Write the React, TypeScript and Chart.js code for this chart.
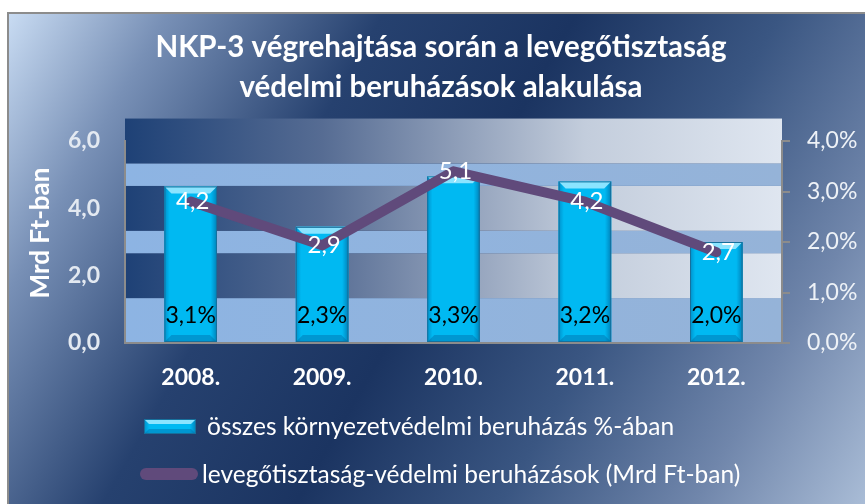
import { useEffect, useRef } from 'react';
import { Chart, registerables } from 'chart.js';

Chart.register(...registerables);

const categories = ['2008.', '2009.', '2010.', '2011.', '2012.'];
const sharePercent = [3.1, 2.3, 3.3, 3.2, 2.0];
const airInvestment = [4.2, 2.9, 5.1, 4.2, 2.7];
const leftTicks = [0, 2, 4, 6];
const rightTicks = [0, 1, 2, 3, 4];
const titleLines = ['NKP-3 végrehajtása során a levegőtisztaság', 'védelmi beruházások alakulása'];
const barSeriesName = 'összes környezetvédelmi beruházás %-ában';
const lineSeriesName = 'levegőtisztaság-védelmi beruházások (Mrd Ft-ban)';
const leftAxisTitle = 'Mrd Ft-ban';

const FONT = 'Lato, "Open Sans", sans-serif';
const fmt = (v: number) => v.toFixed(1).replace('.', ',');

const BAR_COLOR = '#00b9f2';
const LINE_COLOR = '#604a7b';

function drawBevelBar(ctx: CanvasRenderingContext2D, l: number, t: number, w: number, h: number, bevel: number) {
  const r = l + w;
  const b = t + h;
  ctx.save();
  ctx.fillStyle = BAR_COLOR;
  ctx.fillRect(l, t, w, h);
  const g = ctx.createLinearGradient(l, 0, r, 0);
  g.addColorStop(0, 'rgba(0,70,130,0.35)');
  g.addColorStop(0.1, 'rgba(0,70,130,0)');
  g.addColorStop(0.88, 'rgba(0,70,130,0)');
  g.addColorStop(1, 'rgba(0,60,110,0.45)');
  ctx.fillStyle = g;
  ctx.fillRect(l, t, w, h);
  ctx.fillStyle = '#8be4ff';
  ctx.beginPath();
  ctx.moveTo(l, t);
  ctx.lineTo(r, t);
  ctx.lineTo(r - bevel, t + bevel);
  ctx.lineTo(l + bevel, t + bevel);
  ctx.closePath();
  ctx.fill();
  ctx.fillStyle = 'rgba(0,90,150,0.35)';
  ctx.beginPath();
  ctx.moveTo(l, b);
  ctx.lineTo(r, b);
  ctx.lineTo(r - bevel, b - bevel);
  ctx.lineTo(l + bevel, b - bevel);
  ctx.closePath();
  ctx.fill();
  ctx.strokeStyle = '#17709c';
  ctx.lineWidth = 1;
  ctx.strokeRect(l + 0.5, t + 0.5, w - 1, h - 1);
  ctx.restore();
}

const backgroundPlugin = {
  id: 'backgroundPlugin',
  beforeDraw(chart: any) {
    const { ctx, width, height, chartArea, scales } = chart;
    ctx.save();
    ctx.fillStyle = '#ffffff';
    ctx.fillRect(0, 0, width, height);
    const x0 = 8;
    const y0 = 13;
    const g = ctx.createLinearGradient(x0, y0, width, height);
    g.addColorStop(0, '#c9dcf3');
    g.addColorStop(0.14, '#7890b6');
    g.addColorStop(0.33, '#26416f');
    g.addColorStop(0.5, '#1b3461');
    g.addColorStop(0.68, '#3a5682');
    g.addColorStop(0.85, '#7086ab');
    g.addColorStop(1, '#a9bcd6');
    ctx.fillStyle = g;
    ctx.fillRect(x0, y0, width - x0, height - y0);
    ctx.strokeStyle = '#8c8c8c';
    ctx.lineWidth = 2;
    ctx.beginPath();
    ctx.moveTo(x0, height);
    ctx.lineTo(x0, y0);
    ctx.lineTo(width, y0);
    ctx.stroke();

    // plot area bands (in left-axis units, steps of 2/3)
    const ys = scales.y;
    const { left, right } = chartArea;
    const dark = ctx.createLinearGradient(left, 0, right, 0);
    dark.addColorStop(0, '#1e4176');
    dark.addColorStop(0.3, '#566c93');
    dark.addColorStop(0.7, '#c3cddc');
    dark.addColorStop(1, '#dfe6f0');
    const light = ctx.createLinearGradient(left, 0, right, 0);
    light.addColorStop(0, '#8db4e3');
    light.addColorStop(1, '#95b3d8');
    const step = 2 / 3;
    const pattern = [2, 2, 1, 2, 1, 2];
    let v = 0;
    for (let i = 0; i < pattern.length; i++) {
      const v2 = v + pattern[i] * step;
      const yb = ys.getPixelForValue(v);
      const yt = ys.getPixelForValue(v2);
      ctx.fillStyle = i % 2 === 0 ? light : dark;
      ctx.fillRect(left, yt, right - left, yb - yt);
      v = v2;
    }
    ctx.restore();
  },
  afterDatasetDraw(chart: any, args: any) {
    const meta = args.meta;
    if (meta.type !== 'bar') return;
    const ctx = chart.ctx;
    meta.data.forEach((bar: any) => {
      const { x, y, base, width } = bar.getProps(['x', 'y', 'base', 'width'], true);
      drawBevelBar(ctx, x - width / 2, y, width, base - y, 7);
    });
  },
  afterDatasetsDraw(chart: any) {
    const ctx = chart.ctx;
    ctx.save();
    ctx.textAlign = 'center';
    ctx.textBaseline = 'middle';
    const barMeta = chart.getDatasetMeta(1);
    ctx.fillStyle = '#000000';
    ctx.font = `23px ${FONT}`;
    barMeta.data.forEach((bar: any, i: number) => {
      const { x, base } = bar.getProps(['x', 'base'], true);
      ctx.fillText(fmt(sharePercent[i]) + '%', x, base - 26);
    });
    const lineMeta = chart.getDatasetMeta(0);
    ctx.fillStyle = '#ffffff';
    ctx.font = `24px ${FONT}`;
    lineMeta.data.forEach((pt: any, i: number) => {
      const { x, y } = pt.getProps(['x', 'y'], true);
      ctx.fillText(fmt(airInvestment[i]), x + 2, y);
    });
    ctx.restore();
  },
  afterDraw(chart: any) {
    const ctx = chart.ctx;
    ctx.save();
    ctx.fillStyle = '#ffffff';
    ctx.textAlign = 'center';
    ctx.textBaseline = 'middle';
    // title
    ctx.font = `bold 29.5px ${FONT}`;
    ctx.fillText(titleLines[0], 441, 47);
    ctx.fillText(titleLines[1], 441, 87);
    // left axis title
    ctx.save();
    ctx.translate(41, 233);
    ctx.rotate(-Math.PI / 2);
    ctx.font = `bold 26px ${FONT}`;
    ctx.fillText(leftAxisTitle, 0, 0);
    ctx.restore();
    // legend
    ctx.textAlign = 'left';
    ctx.font = `24.5px ${FONT}`;
    drawBevelBar(ctx, 144, 419, 52, 15, 5);
    ctx.fillStyle = '#ffffff';
    ctx.fillText(barSeriesName, 207, 427);
    ctx.strokeStyle = LINE_COLOR;
    ctx.lineWidth = 12;
    ctx.lineCap = 'round';
    ctx.beginPath();
    ctx.moveTo(146, 474);
    ctx.lineTo(192, 474);
    ctx.stroke();
    ctx.fillStyle = '#ffffff';
    ctx.fillText(lineSeriesName, 202, 475);
    ctx.restore();
  },
};

export default function App() {
  const canvasRef = useRef<HTMLCanvasElement | null>(null);

  useEffect(() => {
    const canvas = canvasRef.current;
    if (!canvas) return;
    const chart = new Chart(canvas, {
      type: 'bar',
      data: {
        labels: categories,
        datasets: [
          {
            type: 'line',
            label: lineSeriesName,
            data: airInvestment,
            yAxisID: 'y',
            borderColor: LINE_COLOR,
            backgroundColor: LINE_COLOR,
            borderWidth: 10,
            borderCapStyle: 'round',
            borderJoinStyle: 'round',
            pointRadius: 0,
            tension: 0,
            order: 0,
          } as any,
          {
            type: 'bar',
            label: barSeriesName,
            data: sharePercent,
            yAxisID: 'y1',
            backgroundColor: BAR_COLOR,
            borderWidth: 0,
            barPercentage: 1,
            categoryPercentage: 0.4,
            order: 1,
          } as any,
        ],
      },
      options: {
        animation: false,
        responsive: true,
        maintainAspectRatio: false,
        layout: { padding: { top: 141, left: 0, right: 0, bottom: 0 } },
        plugins: {
          legend: { display: false },
          title: { display: false },
          tooltip: { enabled: false },
        },
        scales: {
          x: {
            grid: { display: false, drawTicks: false },
            border: { display: true, color: '#8c8c8c', width: 2 },
            ticks: {
              color: '#ffffff',
              font: { family: FONT, size: 23, weight: 'bold' },
              padding: 21,
            },
            afterFit(s: any) {
              s.height = 161;
            },
          },
          y: {
            position: 'left',
            min: 0,
            max: 6,
            afterBuildTicks(s: any) {
              s.ticks = leftTicks.map((v) => ({ value: v }));
            },
            ticks: {
              color: '#e3e9f1',
              font: { family: FONT, size: 23, weight: 'bold' },
              padding: 25,
              callback: (v: any) => fmt(Number(v)),
            },
            grid: { display: false, drawTicks: false },
            border: { display: true, color: '#8c8c8c', width: 2 },
            title: { display: false },
            afterFit(s: any) {
              s.width = 125;
            },
          },
          y1: {
            position: 'right',
            min: 0,
            max: 4,
            afterBuildTicks(s: any) {
              s.ticks = rightTicks.map((v) => ({ value: v }));
            },
            ticks: {
              color: '#eef2f7',
              font: { family: FONT, size: 23 },
              padding: 17,
              callback: (v: any) => fmt(Number(v)) + '%',
            },
            grid: {
              display: true,
              drawOnChartArea: false,
              drawTicks: true,
              tickLength: 8,
              color: '#8c8c8c',
              lineWidth: 2,
            },
            border: { display: true, color: '#8c8c8c', width: 2 },
            afterFit(s: any) {
              s.width = 83;
            },
          },
        },
      } as any,
      plugins: [backgroundPlugin],
    });
    return () => chart.destroy();
  }, []);

  return (
    <div style={{ position: 'fixed', left: 0, top: 0, width: 865, height: 504 }}>
      <canvas ref={canvasRef} />
    </div>
  );
}
